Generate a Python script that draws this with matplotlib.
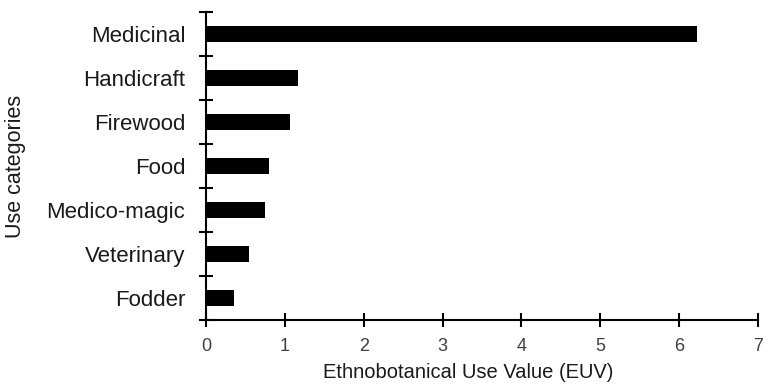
import numpy as np
import matplotlib.pyplot as plt

# Use categories, bottom to top, and their EUV
categories = ["Fodder", "Veterinary", "Medico-magic", "Food", "Firewood", "Handicraft", "Medicinal"]
euv = [0.35, 0.55, 0.75, 0.80, 1.07, 1.17, 6.23]
xticks = [0, 1, 2, 3, 4, 5, 6, 7]

plt.rcParams['font.family'] = ['Liberation Sans', 'DejaVu Sans']

fig = plt.figure(figsize=(7.64, 3.87), dpi=100)
ax = fig.add_axes([0.2696, 0.173, 0.7224, 0.796])

pos = np.arange(len(categories))
ax.barh(pos, euv, height=0.37, color='black')

ax.set_xlim(0, 7)
ax.set_ylim(-0.5, len(categories) - 0.5)

# tick marks sit on the category boundaries, labels at the centres
ax.set_yticks(np.arange(-0.5, len(categories), 1.0))
ax.set_yticklabels([])
ax.set_yticks(pos, minor=True)
ax.set_yticklabels(categories, minor=True, fontsize=16, color='#1a1a1a')
ax.tick_params(axis='y', which='major', direction='inout', length=10, width=1.5)
ax.tick_params(axis='y', which='minor', length=0, pad=15)

ax.set_xticks(xticks)
ax.set_xticklabels([str(t) for t in xticks], fontsize=13, color='#404040')
ax.tick_params(axis='x', direction='inout', length=10, width=1.5, pad=8)

for side in ['top', 'right']:
    ax.spines[side].set_visible(False)
for side in ['left', 'bottom']:
    ax.spines[side].set_linewidth(1.5)

ax.set_xlabel("Ethnobotanical Use Value (EUV)", fontsize=14.5, color='#1a1a1a')
ax.xaxis.set_label_coords(0.475, -0.14)
ax.set_ylabel("Use categories", fontsize=15.5, color='#1a1a1a')
ax.yaxis.set_label_coords(-0.326, 0.5)

fig.savefig("out.png", dpi=100)
